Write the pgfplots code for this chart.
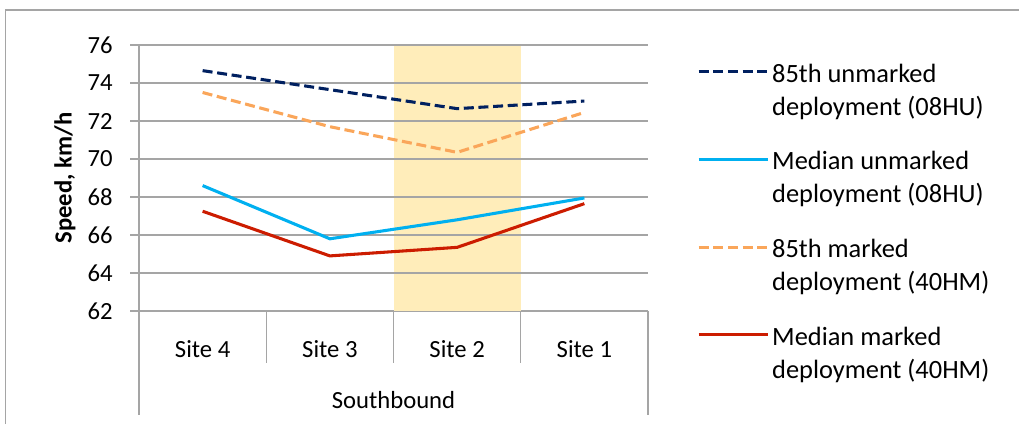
\documentclass[border=0pt]{standalone}
\usepackage{pgfplots}
\pgfplotsset{compat=1.18}
\usepackage{fontspec}
\setmainfont{Carlito}
\definecolor{navy}{RGB}{0,32,96}
\definecolor{cyanx}{RGB}{0,176,240}
\definecolor{orangex}{RGB}{250,166,90}
\definecolor{redx}{RGB}{204,28,0}
\definecolor{band}{RGB}{255,237,186}
\definecolor{gridg}{RGB}{165,165,165}
\begin{document}
\begin{tikzpicture}
\useasboundingbox (0,0) rectangle (764.25pt,318pt);
\draw[gridg, line width=0.8pt] (4pt,0) -- (4pt,310.5pt) -- (764.25pt,310.5pt);
\begin{axis}[
  at={(104.25pt,84.75pt)}, anchor=south west,
  scale only axis, width=381.75pt, height=199.5pt,
  xmin=-0.5, xmax=3.5, ymin=62, ymax=76,
  ytick={62,64,...,76},
  xtick={0,1,2,3},
  xticklabels={Site 4,Site 3,Site 2,Site 1},
  axis x line*=bottom, axis y line*=left,
  axis line style={gridg, line width=0.8pt},
  ymajorgrids, grid style={gridg, line width=0.8pt},
  tick align=outside,
  major tick length=6.75pt,
  x tick style={draw=none},
  y tick style={gridg, line width=0.8pt},
  /pgf/number format/assume math mode=true,
  tick label style={font=\fontsize{18.5}{22}\selectfont},
  yticklabel style={anchor=east, inner sep=0pt, xshift=-12.75pt},
  xticklabel style={anchor=center, inner sep=0pt, yshift=-22pt},
  ylabel={\bfseries Speed, km/h},
  ylabel style={font=\fontsize{18.5}{22}\selectfont, at={(axis description cs:-0.1454,0.5)}, anchor=center, rotate=0},
  clip=false,
  legend style={draw=none, fill=none, at={(axis description cs:1.096,0.958)}, anchor=north west,
     font=\fontsize{19.8}{24.75}\selectfont, inner sep=0pt, row sep=43pt,
     nodes={inner sep=2pt}},
  legend cell align=left,
  legend image code/.code={\draw[#1] (0pt,0pt) -- (52pt,0pt);},
]
\addplot[fill=band, draw=none, forget plot]
  coordinates {(1.5,62) (1.5,76) (2.5,76) (2.5,62)} -- cycle;
\foreach \yy in {64,66,...,76} {
  \edef\tmp{\noexpand\draw[gridg, line width=0.8pt] (axis cs:1.5,\yy) -- (axis cs:2.5,\yy);}\tmp
}
\addplot[navy, line width=2.3pt, dash pattern=on 7.5pt off 3.5pt]
  coordinates {(0,74.65) (1,73.65) (2,72.65) (3,73.05)};
\addlegendentry{\begin{tabular}[t]{@{}l@{}}85th unmarked\\deployment (08HU)\end{tabular}}
\addplot[cyanx, line width=2.3pt]
  coordinates {(0,68.6) (1,65.8) (2,66.8) (3,67.95)};
\addlegendentry{\begin{tabular}[t]{@{}l@{}}Median unmarked\\deployment (08HU)\end{tabular}}
\addplot[orangex, line width=2.3pt, dash pattern=on 7.5pt off 3.5pt]
  coordinates {(0,73.5) (1,71.7) (2,70.35) (3,72.45)};
\addlegendentry{\begin{tabular}[t]{@{}l@{}}85th marked\\deployment (40HM)\end{tabular}}
\addplot[redx, line width=2.3pt]
  coordinates {(0,67.25) (1,64.9) (2,65.35) (3,67.65)};
\addlegendentry{\begin{tabular}[t]{@{}l@{}}Median marked\\deployment (40HM)\end{tabular}}
\draw[gridg, line width=0.8pt] (axis cs:0.5,62) -- ++(0pt,-39pt);
\draw[gridg, line width=0.8pt] (axis cs:1.5,62) -- ++(0pt,-39pt);
\draw[gridg, line width=0.8pt] (axis cs:2.5,62) -- ++(0pt,-39pt);
\draw[gridg, line width=0.8pt] (axis cs:-0.5,62) -- ++(0pt,-78pt);
\draw[gridg, line width=0.8pt] (axis cs:3.5,62) -- ++(0pt,-78pt);
\node[font=\fontsize{18.5}{22}\selectfont, anchor=center] at (axis cs:1.5,62) [yshift=-66.75pt] {Southbound};
\end{axis}
\end{tikzpicture}
\end{document}
